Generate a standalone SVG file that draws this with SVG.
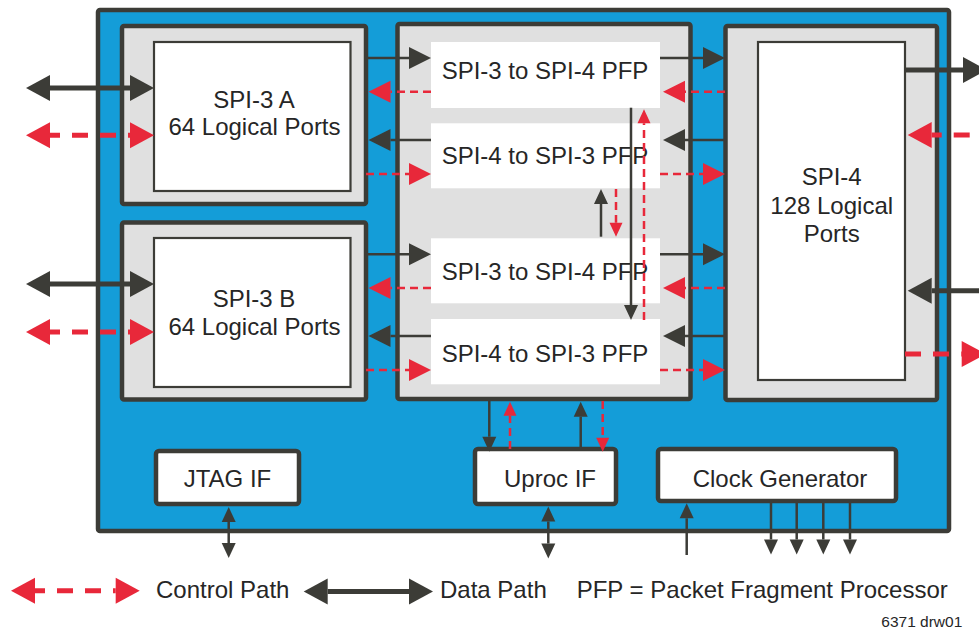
<svg xmlns="http://www.w3.org/2000/svg" width="979" height="630" viewBox="0 0 979 630">
<style>
.txt{font-family:"Liberation Sans",Arial,sans-serif;font-size:24px;fill:#262626;text-anchor:middle}
.leg{font-family:"Liberation Sans",Arial,sans-serif;font-size:24px;fill:#262626}
.outer{fill:#149dd8;stroke:#3c3c37;stroke-width:4.5}
.gray{fill:#e0e0e0;stroke:#3c3c37;stroke-width:4.5}
.inner{fill:#fff;stroke:#3c3c37;stroke-width:2.2}
.pfp{fill:#fff}
.box{fill:#fff;stroke:#3c3c37;stroke-width:4.5}
.dk{stroke:#3c3c37;fill:none}
.rd{stroke:#e8283a;fill:none}
.thick{stroke-width:5}
.thin{stroke-width:2.5}
.dash{stroke-dasharray:16 12;stroke-dashoffset:6}
.dash0{stroke-dasharray:16 12}
.sdash{stroke-dasharray:8 5}
</style>
<defs>
<marker id="bd" markerUnits="userSpaceOnUse" markerWidth="24" markerHeight="26" viewBox="0 0 24 26" refX="0" refY="13" orient="auto-start-reverse" overflow="visible"><path d="M0,0L24,13L0,26z" fill="#3c3c37"/></marker>
<marker id="br" markerUnits="userSpaceOnUse" markerWidth="24" markerHeight="26" viewBox="0 0 24 26" refX="0" refY="13" orient="auto-start-reverse" overflow="visible"><path d="M0,0L24,13L0,26z" fill="#e8283a"/></marker>
<marker id="md" markerUnits="userSpaceOnUse" markerWidth="22" markerHeight="22" viewBox="0 0 22 22" refX="0" refY="11" orient="auto-start-reverse" overflow="visible"><path d="M0,0L22,11L0,22z" fill="#3c3c37"/></marker>
<marker id="mr" markerUnits="userSpaceOnUse" markerWidth="22" markerHeight="22" viewBox="0 0 22 22" refX="0" refY="11" orient="auto-start-reverse" overflow="visible"><path d="M0,0L22,11L0,22z" fill="#e8283a"/></marker>
<marker id="sd" markerUnits="userSpaceOnUse" markerWidth="15" markerHeight="14" viewBox="0 0 15 14" refX="0" refY="7" orient="auto-start-reverse" overflow="visible"><path d="M0,0L15,7L0,14z" fill="#3c3c37"/></marker>
<marker id="sr" markerUnits="userSpaceOnUse" markerWidth="14" markerHeight="13" viewBox="0 0 14 13" refX="0" refY="6.5" orient="auto-start-reverse" overflow="visible"><path d="M0,0L14,6.5L0,13z" fill="#e8283a"/></marker>
</defs>

<g id="chip"><rect class="outer" x="98" y="10" width="851" height="521" rx="2"/></g>

<g id="spi3a">
<rect class="gray" x="122" y="26" width="244" height="178" rx="2"/>
<rect class="inner" x="154" y="42" width="196.5" height="149"/>
<text class="txt" x="254" y="108">SPI-3 A</text>
<text class="txt" x="254.5" y="135">64 Logical Ports</text>
</g>

<g id="spi3b">
<rect class="gray" x="122" y="222.5" width="244" height="177" rx="2"/>
<rect class="inner" x="154" y="238" width="196.5" height="149"/>
<text class="txt" x="254" y="306.7">SPI-3 B</text>
<text class="txt" x="254.5" y="335">64 Logical Ports</text>
</g>

<g id="pfpblock">
<rect class="gray" x="397.5" y="24" width="293" height="375" rx="2"/>
</g>
<g id="pfp1"><rect class="pfp" x="431" y="42" width="229" height="66"/><text class="txt" x="545" y="79.3">SPI-3 to SPI-4 PFP</text></g>
<g id="pfp2"><rect class="pfp" x="431" y="123.3" width="229" height="65"/><text class="txt" x="545" y="164.3">SPI-4 to SPI-3 PFP</text></g>
<g id="pfp3"><rect class="pfp" x="431" y="238.3" width="229" height="65"/><text class="txt" x="545" y="280">SPI-3 to SPI-4 PFP</text></g>
<g id="pfp4"><rect class="pfp" x="431" y="319" width="229" height="65.3"/><text class="txt" x="545" y="361.7">SPI-4 to SPI-3 PFP</text></g>

<g id="spi4">
<rect class="gray" x="725.5" y="26" width="211.5" height="374" rx="2"/>
<rect class="inner" x="758" y="42" width="147" height="338"/>
<text class="txt" x="831.7" y="185">SPI-4</text>
<text class="txt" x="831.7" y="214.3">128 Logical</text>
<text class="txt" x="831.7" y="241.7">Ports</text>
</g>

<g id="jtag"><rect class="box" x="156" y="451" width="143" height="53" rx="3"/><text class="txt" x="227.5" y="486.7">JTAG IF</text></g>
<g id="uproc"><rect class="box" x="475" y="449" width="141" height="55" rx="3"/><text class="txt" x="550" y="486.7">Uproc IF</text></g>
<g id="clock"><rect class="box" x="658" y="449" width="238" height="52" rx="3"/><text class="txt" x="780" y="486.7">Clock Generator</text></g>

<g id="connectors">
<!-- external SPI-3 A -->
<line class="dk thick" x1="50" y1="88" x2="130" y2="88" marker-start="url(#bd)" marker-end="url(#bd)"/>
<line class="rd thick dash" x1="50" y1="135.3" x2="130" y2="135.3" marker-start="url(#br)" marker-end="url(#br)"/>
<!-- external SPI-3 B -->
<line class="dk thick" x1="50" y1="284" x2="130" y2="284" marker-start="url(#bd)" marker-end="url(#bd)"/>
<line class="rd thick dash" x1="50" y1="332" x2="130" y2="332" marker-start="url(#br)" marker-end="url(#br)"/>
<!-- external SPI-4 -->
<line class="dk thick" x1="905" y1="70" x2="963" y2="70" marker-end="url(#bd)"/>
<line class="rd thick dash" x1="931.7" y1="135" x2="990" y2="135" marker-start="url(#br)"/>
<line class="dk thick" x1="990" y1="290.7" x2="931.7" y2="290.7" marker-end="url(#bd)"/>
<line class="rd thick dash0" x1="905" y1="354" x2="961.7" y2="354" marker-end="url(#br)"/>

<!-- row 1 -->
<line class="dk thin" x1="366" y1="58" x2="409" y2="58" marker-end="url(#md)"/>
<line class="dk thin" x1="660" y1="58" x2="703" y2="58" marker-end="url(#md)"/>
<line class="rd thin sdash" x1="725" y1="91.7" x2="685" y2="91.7" marker-end="url(#mr)"/>
<line class="rd thin sdash" x1="431" y1="91.7" x2="390.5" y2="91.7" marker-end="url(#mr)"/>
<!-- row 2 -->
<line class="dk thin" x1="725" y1="140" x2="685" y2="140" marker-end="url(#md)"/>
<line class="dk thin" x1="431" y1="140" x2="390.5" y2="140" marker-end="url(#md)"/>
<line class="rd thin sdash" x1="366" y1="174" x2="409" y2="174" marker-end="url(#mr)"/>
<line class="rd thin sdash" x1="660" y1="174" x2="703" y2="174" marker-end="url(#mr)"/>
<!-- row 3 -->
<line class="dk thin" x1="366" y1="254.3" x2="409" y2="254.3" marker-end="url(#md)"/>
<line class="dk thin" x1="660" y1="254.3" x2="703" y2="254.3" marker-end="url(#md)"/>
<line class="rd thin sdash" x1="725" y1="288" x2="685" y2="288" marker-end="url(#mr)"/>
<line class="rd thin sdash" x1="431" y1="288" x2="390.5" y2="288" marker-end="url(#mr)"/>
<!-- row 4 -->
<line class="dk thin" x1="725" y1="336" x2="685" y2="336" marker-end="url(#md)"/>
<line class="dk thin" x1="431" y1="336" x2="390.5" y2="336" marker-end="url(#md)"/>
<line class="rd thin sdash" x1="366" y1="370" x2="409" y2="370" marker-end="url(#mr)"/>
<line class="rd thin sdash" x1="660" y1="370" x2="703" y2="370" marker-end="url(#mr)"/>

<!-- vertical inside PFP block -->
<line class="dk thin" x1="631" y1="107.7" x2="631" y2="305" marker-end="url(#sd)"/>
<line class="rd thin sdash" x1="644" y1="320" x2="644" y2="123.3" marker-end="url(#sr)"/>
<line class="dk thin" x1="601" y1="236.7" x2="601" y2="204" marker-end="url(#sd)"/>
<line class="rd thin sdash" x1="616" y1="189" x2="616" y2="222.7" marker-end="url(#sr)"/>

<!-- PFP block to Uproc -->
<line class="dk thin" x1="489.3" y1="401" x2="489.3" y2="436.7" marker-end="url(#sd)"/>
<line class="rd thin sdash" x1="510" y1="449" x2="510" y2="415.7" marker-end="url(#sr)"/>
<line class="dk thin" x1="580.7" y1="449" x2="580.7" y2="416.7" marker-end="url(#sd)"/>
<line class="rd thin sdash" x1="602.7" y1="401" x2="602.7" y2="437.7" marker-end="url(#sr)"/>

<!-- bottom interfaces -->
<line class="dk thin" x1="228.7" y1="522" x2="228.7" y2="543" marker-start="url(#sd)" marker-end="url(#sd)"/>
<line class="dk thin" x1="548.3" y1="521.5" x2="548.3" y2="543.5" marker-start="url(#sd)" marker-end="url(#sd)"/>
<line class="dk thin" x1="686.7" y1="555" x2="686.7" y2="518.3" marker-end="url(#sd)"/>
<line class="dk thin" x1="771" y1="503" x2="771" y2="539.5" marker-end="url(#sd)"/>
<line class="dk thin" x1="796.7" y1="503" x2="796.7" y2="539.5" marker-end="url(#sd)"/>
<line class="dk thin" x1="823.3" y1="503" x2="823.3" y2="539.5" marker-end="url(#sd)"/>
<line class="dk thin" x1="850" y1="503" x2="850" y2="539.5" marker-end="url(#sd)"/>
</g>

<g id="legend">
<line class="rd thick dash" x1="35" y1="590.7" x2="115.7" y2="590.7" marker-start="url(#br)" marker-end="url(#br)"/>
<text class="leg" x="156" y="598.3">Control Path</text>
<line class="dk thick" x1="327.7" y1="591.5" x2="409" y2="591.5" marker-start="url(#bd)" marker-end="url(#bd)"/>
<text class="leg" x="440" y="598.3">Data Path</text>
<text class="leg" x="576.7" y="598.3">PFP = Packet Fragment Processor</text>
<text class="leg" x="962.3" y="627" style="font-size:15.5px;text-anchor:end">6371 drw01</text>
</g>
</svg>
